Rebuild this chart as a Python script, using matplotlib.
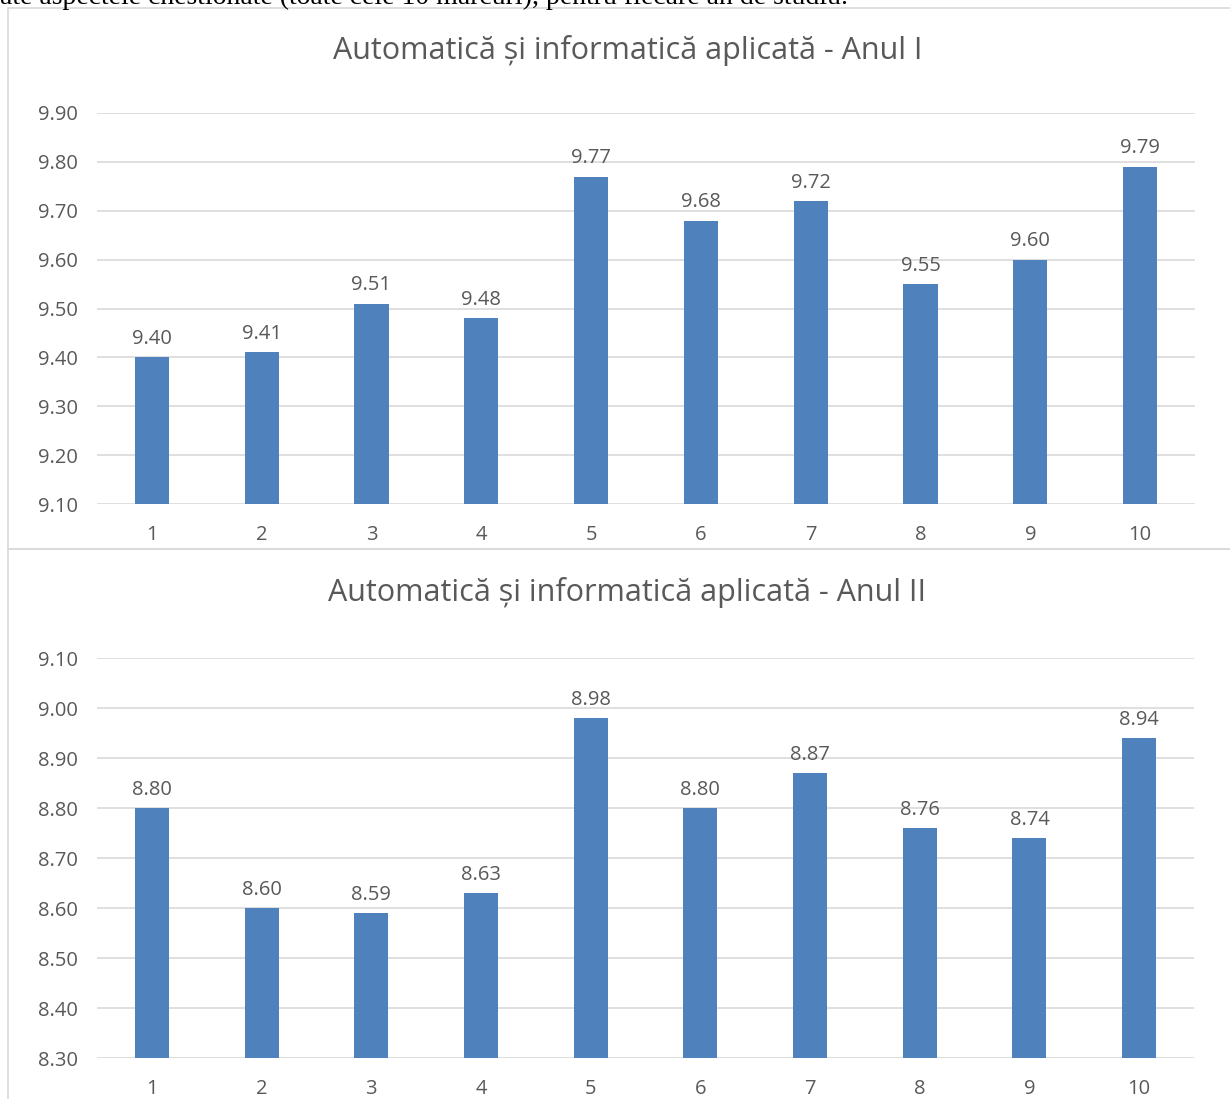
import matplotlib.pyplot as plt
from matplotlib.patches import Rectangle

# date: media pe fiecare aspect (1-10), pentru fiecare an
aspecte = [1, 2, 3, 4, 5, 6, 7, 8, 9, 10]
anul_1 = [9.40, 9.41, 9.51, 9.48, 9.77, 9.68, 9.72, 9.55, 9.60, 9.79]
anul_2 = [8.80, 8.60, 8.59, 8.63, 8.98, 8.80, 8.87, 8.76, 8.74, 8.94]
titluri = ["Automatică și informatică aplicată - Anul I",
           "Automatică și informatică aplicată - Anul II"]
ylim_1 = (9.10, 9.90)
ylim_2 = (8.30, 9.10)

BAR = "#4F81BD"
TEXT = "#595959"
GRID = "#D9D9D9"
FONT = "Open Sans"

W, H = 1230, 1099
fig = plt.figure(figsize=(W / 100, H / 100), dpi=100)


def px_box(x0, y0, x1, y1):
    # pixel box (top-left origin) -> figure fraction rect
    return [x0 / W, 1 - y1 / H, (x1 - x0) / W, (y1 - y0) / H]


# text of the page, cut at the top
fig.text(0.0, 1 - 4 / H, "ate aspectele chestionate (toate cele 10 mărcuri), pentru fiecare an de studiu.",
         family="Liberation Serif", fontsize=20, va="baseline", ha="left", color="black")

# chart frames
for (x0, y0, x1, y1) in [(8, 8, 1240, 549), (8, 549, 1240, 1110)]:
    r = px_box(x0, y0, x1, y1)
    fig.add_artist(Rectangle((r[0], r[1]), r[2], r[3], transform=fig.transFigure,
                             fill=False, edgecolor=GRID, linewidth=1.2))


def draw(box, values, lim, title, title_y):
    ax = fig.add_axes(px_box(*box))
    ax.bar(aspecte, [v - lim[0] for v in values], bottom=lim[0], width=0.31, color=BAR, zorder=3)
    ax.set_xlim(0.5, 10.5)
    ax.set_ylim(*lim)
    ticks = [round(lim[0] + 0.1 * i, 2) for i in range(9)]
    ax.set_yticks(ticks)
    ax.set_yticklabels(["%.2f" % t for t in ticks])
    ax.set_xticks(aspecte)
    ax.set_xticklabels([str(a) for a in aspecte])
    ax.grid(axis="y", color=GRID, linewidth=1.2, zorder=0)
    for s in ax.spines.values():
        s.set_visible(False)
    ax.tick_params(length=0, labelsize=14.5, labelcolor=TEXT)
    ax.tick_params(axis="y", pad=14)
    ax.tick_params(axis="x", pad=15)
    for lab in ax.get_xticklabels() + ax.get_yticklabels():
        lab.set_family(FONT)
    for a, v in zip(aspecte, values):
        ax.annotate("%.2f" % v, (a, v), xytext=(0, 6), textcoords="offset points",
                    ha="center", va="bottom", fontsize=14.5, color=TEXT, family=FONT)
    fig.text(0.51, 1 - title_y / H, title, ha="center", va="center",
             fontsize=22, color=TEXT, family=FONT)


draw((97, 113, 1195, 504), anul_1, ylim_1, titluri[0], 51)
draw((97, 658, 1194, 1058), anul_2, ylim_2, titluri[1], 593)

fig.savefig("out.png", dpi=100)
